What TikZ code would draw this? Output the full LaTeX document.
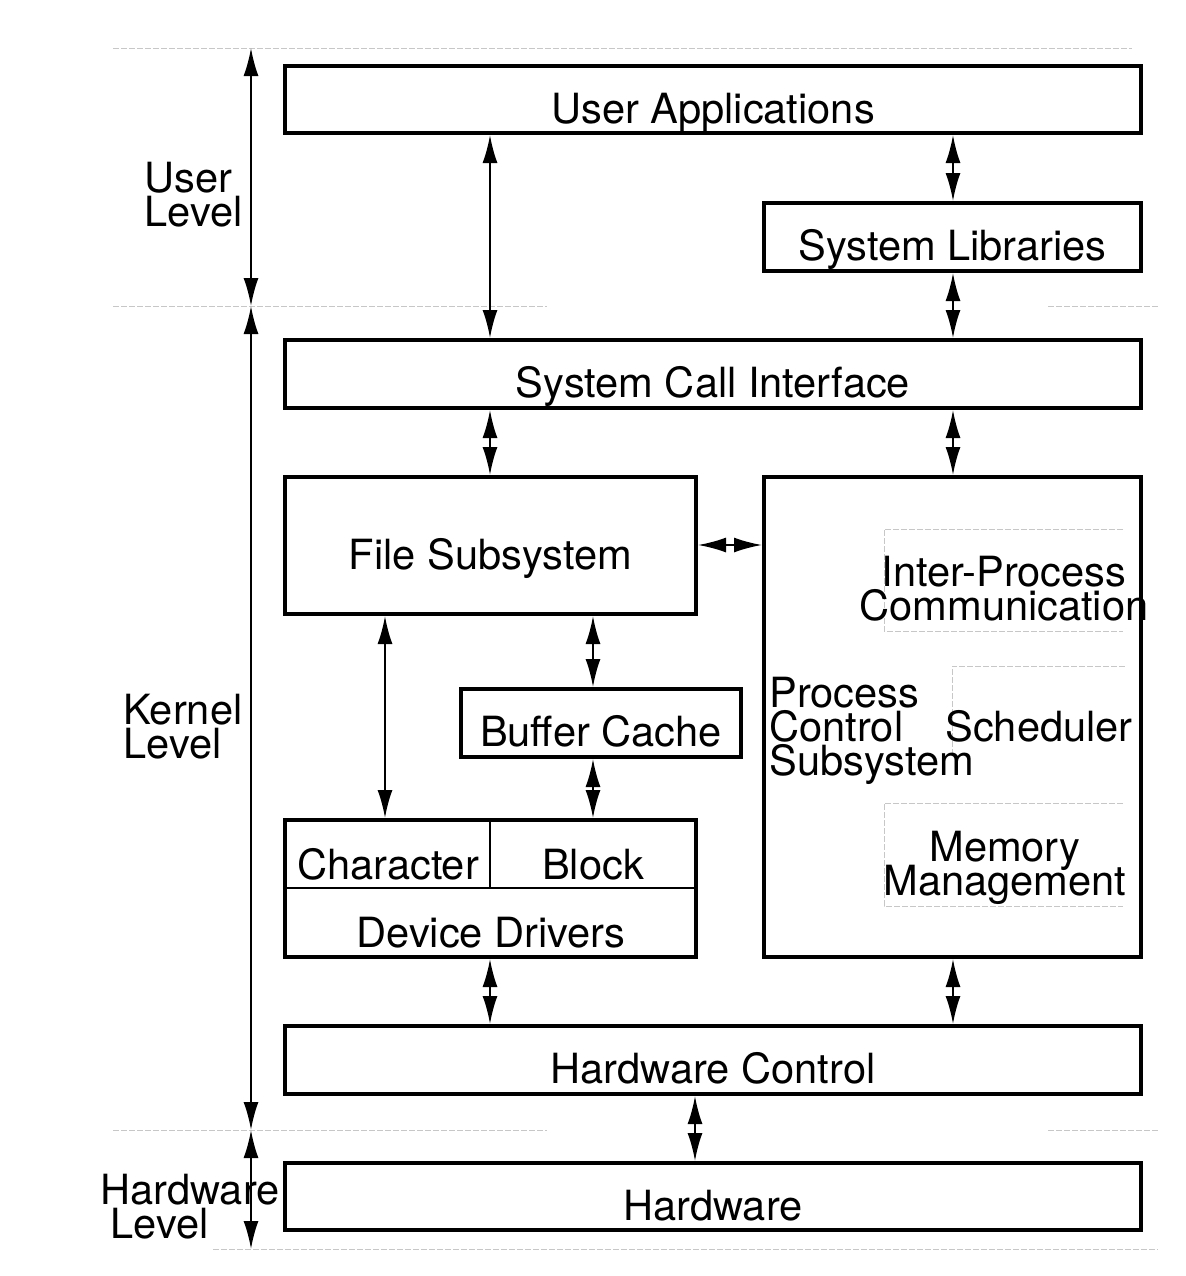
\documentclass[tikz,border=0pt]{standalone}
\usepackage{fontspec}
\setmainfont{TeX Gyre Heros}
\usetikzlibrary{arrows.meta}
\newcommand\tightlines{\lineskiplimit=-1000pt\relax}
\begin{document}
\begin{tikzpicture}[x=0.5pt,y=-0.5pt,
  every node/.style={font=\fontsize{20.8pt}{17pt}\selectfont\tightlines, inner sep=0pt},
  box/.style={draw, line width=2pt, text height=23.5pt, text depth=0pt},
  dbl/.style={{Latex[length=14pt,width=7.5pt]}-{Latex[length=14pt,width=7.5pt]}, line width=1pt},
  guide/.style={draw=black!22, line width=0.5pt, dash pattern=on 3pt off 1pt},
  txt/.style={anchor=base},
  ml/.style={text depth=0pt}]
\useasboundingbox (0,0) rectangle (1186,1276);
% faint guide lines
\draw[guide] (113,48) -- (1132,48);
\draw[guide] (113,306) -- (547,306);
\draw[guide] (1048,306) -- (1158,306);
\draw[guide] (113,1130) -- (547,1130);
\draw[guide] (1048,1130) -- (1158,1130);
\draw[guide] (213,1249) -- (1158,1249);
% boxes
\node[box, minimum width=428pt, minimum height=33.5pt] (ua) at (713,99.5) {User Applications};
\node[box, minimum width=188.5pt, minimum height=34pt] (sl) at (952.5,237) {System Libraries};
\node[box, minimum width=428pt, minimum height=34pt] (sc) at (713,374) {System Call Interface};
\node[box, minimum width=205.5pt, minimum height=68.5pt] (fs) at (490.5,545.5) {File Subsystem};
\node[box, minimum width=188.5pt, minimum height=240pt] (pc) at (952.5,717) {};
\node[box, minimum width=140pt, minimum height=34pt] (bc) at (601,723) {Buffer Cache};
\node[box, minimum width=205.5pt, minimum height=68.5pt] (dd) at (490.5,888.5) {};
\node[box, minimum width=428pt, minimum height=34pt] (hc) at (713,1060) {Hardware Control};
\node[box, minimum width=428pt, minimum height=33.5pt] (hw) at (713,1196.5) {Hardware};
% device drivers inner structure
\coordinate (ydiv) at (0,888);
\coordinate (xa) at (490,0);
\coordinate (xb) at (953,0);
\coordinate (xc) at (385,0);
\coordinate (xd) at (593,0);
\coordinate (xe) at (695,0);
\coordinate (ya) at (0,545);
\draw[line width=0.8pt] (dd.west |- ydiv) -- (dd.east |- ydiv);
\draw[line width=0.8pt] (dd.north -| xa) -- (xa |- ydiv);
\node[txt] (chr) at (388,879) {Character};
\node[txt] (blk) at (593,879) {Block};
\node[txt] (ddl) at (491,947) {Device Drivers};
% process control contents
\draw[guide] (1123,529) -- (884,529) -- (884,631) -- (1123,631);
\draw[guide] (1125,666) -- (952,666) -- (952,753);
\draw[guide] (1123,803) -- (884,803) -- (884,906) -- (1123,906);
\node[ml, align=center, anchor=south] (ipc) at (1004,621) {Inter-Process\\Communication};
\node[ml, align=left, anchor=south west] (pcs) at (769,776) {Process\\Control\\Subsystem};
\node[txt] (sch) at (1039,741) {Scheduler};
\node[ml, align=center, anchor=south] (mm) at (1005,896) {Memory\\Management};
% level labels
\node[ml, align=left, anchor=south west] (ul) at (144,227) {User\\Level};
\node[ml, align=left, anchor=south west] (kl) at (123,759) {Kernel\\Level};
\node[ml, align=left, anchor=south west] (hl) at (100,1239) {Hardware\\\hspace*{5pt}Level};
% level arrows
\coordinate (l0) at (251,48);
\coordinate (l1) at (251,306);
\coordinate (l2) at (251,1130);
\coordinate (l3) at (251,1249);
\draw[dbl] (l0) -- (l1);
\draw[dbl] (l1) -- (l2);
\draw[dbl] (l2) -- (l3);
% connectors
\draw[dbl] (ua.south -| xa) -- (sc.north -| xa);
\draw[dbl] (ua.south -| xb) -- (sl.north -| xb);
\draw[dbl] (sl.south -| xb) -- (sc.north -| xb);
\draw[dbl] (sc.south -| xa) -- (fs.north -| xa);
\draw[dbl] (sc.south -| xb) -- (pc.north -| xb);
\draw[dbl] (fs.east |- ya) -- (pc.west |- ya);
\draw[dbl] (fs.south -| xc) -- (dd.north -| xc);
\draw[dbl] (fs.south -| xd) -- (bc.north -| xd);
\draw[dbl] (bc.south -| xd) -- (dd.north -| xd);
\draw[dbl] (dd.south -| xa) -- (hc.north -| xa);
\draw[dbl] (pc.south -| xb) -- (hc.north -| xb);
\draw[dbl] (hc.south -| xe) -- (hw.north -| xe);
\end{tikzpicture}
\end{document}
